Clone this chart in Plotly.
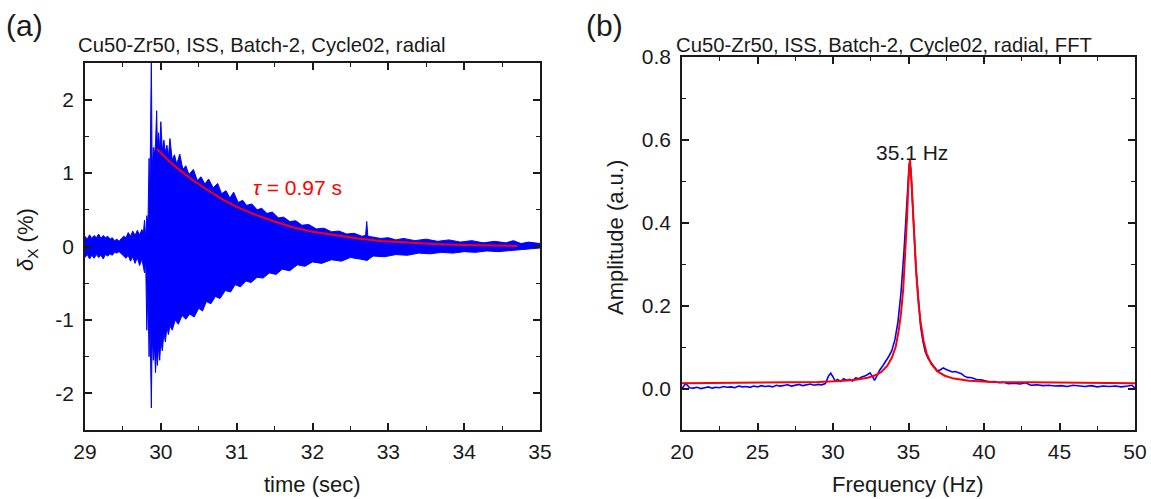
import plotly.graph_objects as go

W, H = 1151, 499

# ---------------- panel (a): time signal ----------------
# upper and lower envelope of the dense blue oscillation
upper_t = [29.00, 29.03, 29.06, 29.09, 29.12, 29.15, 29.18, 29.21, 29.24, 29.27,
           29.30, 29.33, 29.36, 29.39, 29.42, 29.45, 29.48, 29.51, 29.54, 29.57,
           29.60, 29.63, 29.66, 29.69, 29.72, 29.75, 29.77, 29.785, 29.80, 29.815,
           29.83, 29.845, 29.855, 29.865, 29.875, 29.885, 29.90, 29.915, 29.93, 29.945,
           29.955, 29.97, 29.985, 30.00, 30.02, 30.04, 30.06, 30.08, 30.10, 30.12,
           30.15, 30.18, 30.21, 30.25, 30.29, 30.33, 30.37, 30.43, 30.48, 30.53,
           30.58, 30.63, 30.69, 30.75, 30.80, 30.86, 30.91, 30.96, 31.02, 31.08,
           31.13, 31.20, 31.27, 31.33, 31.40, 31.47, 31.55, 31.62, 31.70, 31.78,
           31.86, 31.95, 32.05, 32.15, 32.25, 32.35, 32.45, 32.55, 32.65, 32.70,
           32.715, 32.73, 32.80, 32.90, 33.00, 33.10, 33.20, 33.35, 33.50, 33.65,
           33.80, 33.95, 34.10, 34.25, 34.40, 34.55, 34.65, 34.75, 34.85, 35.00]
upper_v = [0.14, 0.10, 0.16, 0.11, 0.15, 0.12, 0.17, 0.11, 0.15, 0.12,
           0.14, 0.10, 0.12, 0.08, 0.10, 0.07, 0.11, 0.14, 0.12, 0.19,
           0.14, 0.21, 0.15, 0.22, 0.16, 0.23, 0.18, 0.36, 0.10, 0.42,
           0.30, 1.20, 0.60, 1.33, 2.60, 1.00, 1.35, 1.25, 1.40, 1.85,
           1.35, 1.55, 1.30, 1.70, 1.30, 1.45, 1.28, 1.38, 1.22, 1.47,
           1.18, 1.25, 1.12, 1.26, 1.05, 1.10, 0.98, 1.05, 0.90, 0.95,
           0.85, 0.92, 0.80, 0.86, 0.72, 0.76, 0.66, 0.74, 0.60, 0.63,
           0.56, 0.58, 0.50, 0.52, 0.45, 0.47, 0.39, 0.40, 0.34, 0.35,
           0.29, 0.30, 0.24, 0.25, 0.20, 0.21, 0.17, 0.18, 0.14, 0.15,
           0.34, 0.14, 0.13, 0.11, 0.12, 0.09, 0.11, 0.08, 0.10, 0.07,
           0.09, 0.06, 0.08, 0.05, 0.07, 0.05, 0.08, 0.04, 0.06, 0.04]

lower_t = [29.00, 29.03, 29.06, 29.09, 29.12, 29.15, 29.18, 29.21, 29.24, 29.27,
           29.30, 29.33, 29.36, 29.39, 29.42, 29.45, 29.48, 29.51, 29.54, 29.57,
           29.60, 29.63, 29.66, 29.69, 29.72, 29.75, 29.77, 29.785, 29.80, 29.815,
           29.83, 29.845, 29.855, 29.865, 29.875, 29.885, 29.90, 29.915, 29.93, 29.945,
           29.955, 29.97, 29.985, 30.00, 30.02, 30.04, 30.06, 30.08, 30.10, 30.12,
           30.15, 30.19, 30.23, 30.28, 30.33, 30.38, 30.44, 30.50, 30.55, 30.60,
           30.66, 30.72, 30.78, 30.85, 30.92, 30.98, 31.05, 31.12, 31.19, 31.27,
           31.35, 31.43, 31.52, 31.60, 31.70, 31.80, 31.90, 32.00, 32.12, 32.25,
           32.38, 32.50, 32.62, 32.72, 32.80, 32.95, 33.10, 33.25, 33.40, 33.55,
           33.70, 33.85, 34.00, 34.15, 34.30, 34.45, 34.60, 34.75, 34.90, 35.00]
lower_v = [-0.15, -0.11, -0.17, -0.12, -0.16, -0.11, -0.15, -0.12, -0.17, -0.11,
           -0.13, -0.10, -0.12, -0.08, -0.09, -0.07, -0.11, -0.13, -0.16, -0.12,
           -0.20, -0.14, -0.23, -0.15, -0.26, -0.17, -0.25, -0.36, -0.18, -1.14,
           -0.60, -1.50, -0.90, -1.30, -2.20, -1.20, -1.55, -1.35, -1.72, -1.40,
           -1.62, -1.35, -1.55, -1.30, -1.42, -1.18, -1.30, -1.10, -1.20, -1.08,
           -1.14, -1.00, -1.06, -0.94, -0.99, -0.92, -0.96, -0.84, -0.88, -0.75,
           -0.78, -0.68, -0.71, -0.60, -0.62, -0.52, -0.55, -0.47, -0.49, -0.42,
           -0.43, -0.36, -0.38, -0.31, -0.33, -0.25, -0.27, -0.21, -0.23, -0.18,
           -0.20, -0.15, -0.17, -0.19, -0.13, -0.14, -0.11, -0.12, -0.09, -0.10,
           -0.08, -0.09, -0.07, -0.08, -0.06, -0.07, -0.05, -0.04, -0.03, -0.02]

# exponential-decay fit (tau = 0.97 s)
fit_t = [29.95, 30.10, 30.25, 30.40, 30.60, 30.80, 31.00, 31.25, 31.50, 31.75,
         32.00, 32.30, 32.60, 32.90, 33.20, 33.60, 34.00, 34.40, 34.70]
fit_v = [1.33, 1.17, 1.04, 0.92, 0.78, 0.65, 0.54, 0.43, 0.34, 0.26,
         0.20, 0.15, 0.11, 0.075, 0.055, 0.035, 0.022, 0.012, 0.008]

# ---------------- panel (b): FFT ----------------
fft_f = [20.0, 20.25, 20.5, 20.75, 21.0, 21.25, 21.5, 21.75, 22.0, 22.25,
         22.5, 22.75, 23.0, 23.25, 23.5, 23.75, 24.0, 24.25, 24.5, 24.75,
         25.0, 25.25, 25.5, 25.75, 26.0, 26.25, 26.5, 26.75, 27.0, 27.25,
         27.5, 27.75, 28.0, 28.25, 28.5, 28.75, 29.0, 29.25, 29.5, 29.7,
         29.85, 30.0, 30.15, 30.3, 30.5, 30.7, 30.9, 31.1, 31.3, 31.5,
         31.7, 31.9, 32.1, 32.3, 32.45, 32.6, 32.75, 32.9, 33.1, 33.3,
         33.5, 33.7, 33.9, 34.1, 34.3, 34.5, 34.7, 34.85, 34.95, 35.05,
         35.15, 35.25, 35.35, 35.5, 35.65, 35.8, 35.95, 36.1, 36.3, 36.5,
         36.7, 36.9, 37.1, 37.3, 37.5, 37.7, 37.9, 38.1, 38.3, 38.5,
         38.7, 38.9, 39.2, 39.5, 39.8, 40.1, 40.4, 40.7, 41.0, 41.3,
         41.6, 42.0, 42.4, 42.75, 43.1, 43.5, 43.9, 44.3, 44.7, 45.1,
         45.5, 45.9, 46.3, 46.7, 47.1, 47.5, 47.9, 48.3, 48.7, 49.1,
         49.5, 49.8, 50.0]
fft_a = [0.000, 0.012, 0.002, 0.001, 0.003, 0.000, 0.002, 0.004, 0.001, 0.003,
         0.002, 0.005, 0.003, 0.004, 0.002, 0.006, 0.004, 0.005, 0.003, 0.006,
         0.004, 0.007, 0.005, 0.006, 0.004, 0.008, 0.006, 0.007, 0.009, 0.006,
         0.008, 0.010, 0.007, 0.009, 0.011, 0.008, 0.010, 0.009, 0.012, 0.030,
         0.037, 0.028, 0.018, 0.022, 0.017, 0.024, 0.020, 0.022, 0.018, 0.026,
         0.024, 0.028, 0.030, 0.034, 0.038, 0.030, 0.020, 0.030, 0.045, 0.055,
         0.065, 0.078, 0.092, 0.118, 0.160, 0.230, 0.330, 0.420, 0.500, 0.545,
         0.530, 0.470, 0.390, 0.290, 0.210, 0.150, 0.115, 0.090, 0.072, 0.062,
         0.052, 0.043, 0.045, 0.050, 0.046, 0.042, 0.040, 0.041, 0.038, 0.036,
         0.030, 0.027, 0.026, 0.022, 0.021, 0.018, 0.016, 0.017, 0.014, 0.015,
         0.012, 0.013, 0.011, 0.014, 0.008, 0.009, 0.007, 0.008, 0.006, 0.007,
         0.005, 0.008, 0.006, 0.005, 0.007, 0.004, 0.006, 0.005, 0.006, 0.004,
         0.006, 0.008, 0.001]

# Lorentzian fit
lor_f = [20.0, 24.0, 27.0, 29.0, 30.5, 31.5, 32.3, 32.8, 33.2, 33.6,
         33.9, 34.15, 34.35, 34.5, 34.65, 34.8, 34.9, 35.0, 35.1, 35.2,
         35.3, 35.4, 35.5, 35.65, 35.8, 36.0, 36.2, 36.5, 36.9, 37.4,
         38.0, 39.0, 40.5, 43.0, 47.0, 50.0]
lor_a = [0.013, 0.014, 0.015, 0.016, 0.018, 0.021, 0.026, 0.032, 0.040, 0.055,
         0.075, 0.100, 0.140, 0.180, 0.240, 0.330, 0.410, 0.500, 0.553, 0.500,
         0.420, 0.350, 0.285, 0.210, 0.160, 0.115, 0.085, 0.060, 0.042, 0.031,
         0.024, 0.019, 0.016, 0.015, 0.014, 0.013]

xa_ticks = [29, 30, 31, 32, 33, 34, 35]
xa_text = ["29", "30", "31", "32", "33", "34", "35"]
ya_ticks = [-2, -1, 0, 1, 2]
ya_text = ["-2", "-1", "0", "1", "2"]
xb_ticks = [20, 25, 30, 35, 40, 45, 50]
xb_text = ["20", "25", "30", "35", "40", "45", "50"]
yb_ticks = [0.0, 0.2, 0.4, 0.6, 0.8]
yb_text = ["0.0", "0.2", "0.4", "0.6", "0.8"]

BLUE = "#0000ff"
RED = "#ff0000"
INK = "#1a1a1a"
FONT = "Liberation Sans, Arial, sans-serif"


def px(x):
    return x / W


def py(y):
    return 1 - y / H


fig = go.Figure()

fig.add_trace(go.Scatter(
    x=upper_t + lower_t[::-1], y=upper_v + lower_v[::-1],
    mode="lines", fill="toself", fillcolor=BLUE,
    line=dict(color=BLUE, width=1), xaxis="x", yaxis="y",
    showlegend=False, hoverinfo="skip"))
fig.add_trace(go.Scatter(
    x=fit_t, y=fit_v, mode="lines", line=dict(color=RED, width=2),
    xaxis="x", yaxis="y", showlegend=False))

fig.add_trace(go.Scatter(
    x=fft_f, y=fft_a, mode="lines", line=dict(color=BLUE, width=1.6),
    xaxis="x2", yaxis="y2", showlegend=False))
fig.add_trace(go.Scatter(
    x=lor_f, y=lor_a, mode="lines", line=dict(color=RED, width=2),
    xaxis="x2", yaxis="y2", showlegend=False))

axis_common = dict(
    showline=True, linecolor=INK, linewidth=1.5, mirror="ticks",
    ticks="inside", ticklen=7, tickwidth=1.5, tickcolor=INK,
    showgrid=False, zeroline=False, automargin=False,
    tickfont=dict(family=FONT, size=21, color=INK),
)
minor_common = dict(ticks="inside", ticklen=4, tickcolor=INK, tickwidth=1.2)

fig.update_layout(
    width=W, height=H,
    margin=dict(l=0, r=0, t=0, b=0),
    paper_bgcolor="white", plot_bgcolor="white",
    font=dict(family=FONT, color=INK),
    xaxis=dict(domain=[px(85), px(540)], range=[29, 35], anchor="y",
               tickvals=xa_ticks, ticktext=xa_text, ticklabelstandoff=2,
               minor=dict(dtick=0.5, **minor_common), **axis_common),
    yaxis=dict(domain=[py(430), py(63)], range=[-2.5, 2.5], anchor="x",
               tickvals=ya_ticks, ticktext=ya_text, ticklabelstandoff=5,
               minor=dict(dtick=0.5, **minor_common), **axis_common),
    xaxis2=dict(domain=[px(682), px(1135)], range=[20, 50], anchor="y2",
                tickvals=xb_ticks, ticktext=xb_text, ticklabelstandoff=2,
                minor=dict(dtick=2.5, **minor_common), **axis_common),
    yaxis2=dict(domain=[py(430), py(57)], range=[-0.1, 0.8], anchor="x2",
                tickvals=yb_ticks, ticktext=yb_text, ticklabelstandoff=5,
                minor=dict(dtick=0.1, **minor_common), **axis_common),
)

ann = [
    dict(text="(a)", x=px(4), y=py(25), xanchor="left", yanchor="middle", size=30),
    dict(text="(b)", x=px(584), y=py(25), xanchor="left", yanchor="middle", size=30),
    dict(text="Cu50-Zr50, ISS, Batch-2, Cycle02, radial", x=px(76), y=py(45),
         xanchor="left", yanchor="middle", size=20.3),
    dict(text="Cu50-Zr50, ISS, Batch-2, Cycle02, radial, FFT", x=px(674), y=py(45),
         xanchor="left", yanchor="middle", size=20.3),
    dict(text="time (sec)", x=px(312), y=py(484), xanchor="center", yanchor="middle", size=22),
    dict(text="Frequency (Hz)", x=px(908), y=py(484), xanchor="center", yanchor="middle", size=22),
    dict(text="35.1 Hz", x=px(912), y=py(152), xanchor="center", yanchor="middle", size=21),
]
for a in ann:
    fig.add_annotation(text=a["text"], x=a["x"], y=a["y"], xref="paper", yref="paper",
                       xanchor=a["xanchor"], yanchor=a["yanchor"], showarrow=False,
                       font=dict(family=FONT, size=a["size"], color=INK))

fig.add_annotation(text="<i>τ</i> = 0.97 s", x=px(298), y=py(188), xref="paper", yref="paper",
                   xanchor="center", yanchor="middle", showarrow=False,
                   font=dict(family=FONT, size=21, color=RED))
fig.add_annotation(text="<i>δ</i><sub>X</sub> (%)", x=px(27), y=py(240), xref="paper", yref="paper",
                   xanchor="center", yanchor="middle", showarrow=False, textangle=-90,
                   font=dict(family=FONT, size=22, color=INK))
fig.add_annotation(text="Amplitude (a.u.)", x=px(615), y=py(238), xref="paper", yref="paper",
                   xanchor="center", yanchor="middle", showarrow=False, textangle=-90,
                   font=dict(family=FONT, size=22, color=INK))

fig.write_html("out.html")
